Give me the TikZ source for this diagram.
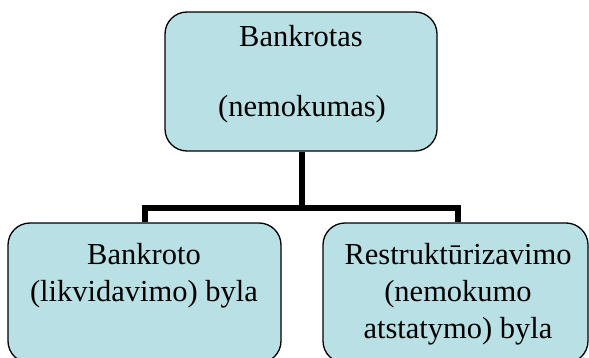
\documentclass[tikz,border=0pt]{standalone}
\usepackage{fontspec}
\setmainfont{Liberation Serif}
\definecolor{boxfill}{RGB}{185,224,228}
\tikzset{
  card/.style={draw=black, line width=1.3pt, fill=boxfill, rounded corners=22pt, inner sep=0pt},
  lbl/.style={anchor=base, inner sep=0pt, font=\fontsize{30.5}{36}\selectfont},
  conn/.style={draw=black, line width=5.5pt, line join=miter}
}
\begin{document}
\begin{tikzpicture}[x=1pt,y=-1pt]
\useasboundingbox (0,0) rectangle (589,358);
\clip (0,0) rectangle (589,358);
\node[card, minimum width=272pt, minimum height=139pt] (top) at (301,81.5) {};
\node[card, minimum width=273pt, minimum height=140pt] (left) at (144.5,293) {};
\node[card, minimum width=265pt, minimum height=140pt] (right) at (455.5,293) {};
\node[lbl] (t1) at (301,46.5) {Bankrotas};
\node[lbl] (t2) at (302,116.5) {(nemokumas)};
\node[lbl] (l1) at (144,265) {Bankroto};
\node[lbl] (l2) at (144,301) {(likvidavimo) byla};
\node[lbl] (r1) at (458,265) {Restruktūrizavimo};
\node[lbl] (r2) at (458,301) {(nemokumo};
\node[lbl] (r3) at (458,338) {atstatymo) byla};
\coordinate (j) at (302,208);
\coordinate (lx) at (145,0);
\coordinate (rx) at (458,0);
\draw[conn] (top.south -| j) -- (j);
\draw[conn] (left.north -| lx) |- (j) -| (right.north -| rx);
\end{tikzpicture}
\end{document}
